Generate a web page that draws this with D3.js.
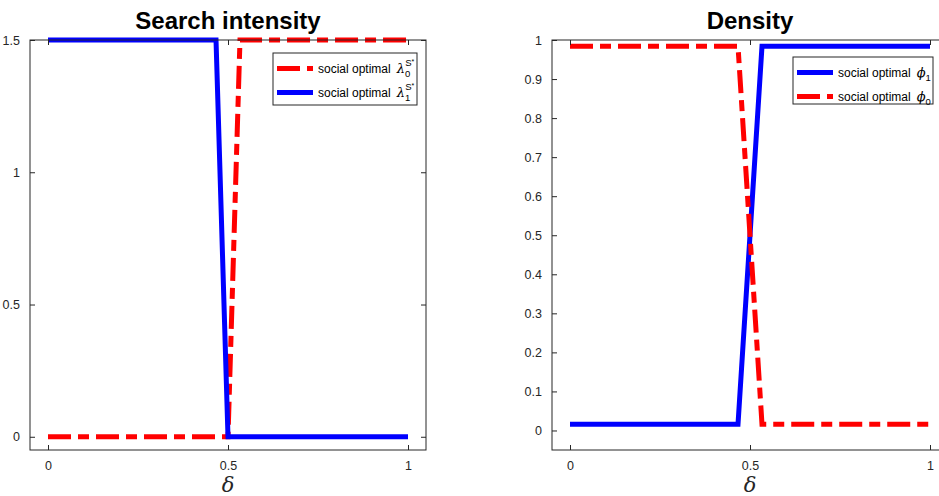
<!DOCTYPE html>
<html>
<head>
<meta charset="utf-8">
<script src="https://cdn.jsdelivr.net/npm/d3@7"></script>
<style>
  body { margin: 0; background: #fff; }
  text { font-family: "Liberation Sans", Arial, Helvetica, sans-serif; }
</style>
</head>
<body>
<svg id="fig" width="939" height="496"></svg>
<script>
// delta grid breakpoints (model solved on a 1/30 grid, flat outside the switch)
const delta = [0, 0.4667, 0.5, 0.5333, 1];

// left panel: search intensity
const lambda0 = [0, 0, 0, 1.5, 1.5];
const lambda1 = [1.5, 1.5, 0, 0, 0];
const searchYTicks = [0, 0.5, 1, 1.5];

// right panel: density
const phi1 = [0.016, 0.016, 0.5, 0.984, 0.984];
const phi0 = [0.984, 0.984, 0.5, 0.016, 0.016];
const densityYTicks = [0, 0.1, 0.2, 0.3, 0.4, 0.5, 0.6, 0.7, 0.8, 0.9, 1];

const xTicks = [0, 0.5, 1];

const svg = d3.select("#fig");
const axisColor = "#262626";
const dashDot = "23,7,11,7";

function panel(opts) {
    const x = d3.scaleLinear().domain([-0.05, 1.05]).range(opts.xr);
    const y = d3.scaleLinear().domain(opts.ydom).range([450, 40]);
    const g = svg.append("g");

    // lines
    opts.series.forEach(s => {
        const line = d3.line().x((d, i) => x(delta[i])).y(d => y(d));
        g.append("path")
            .datum(s.values)
            .attr("d", line)
            .attr("fill", "none")
            .attr("stroke", s.color)
            .attr("stroke-width", 5)
            .attr("stroke-dasharray", s.dash ? dashDot : null);
    });

    // axes (box with mirrored inner ticks)
    const [x0, x1] = x.range(), [y0, y1] = y.range();
    g.append("rect").attr("x", x0).attr("y", y1).attr("width", x1 - x0).attr("height", y0 - y1)
        .attr("fill", "none").attr("stroke", axisColor).attr("stroke-width", 1);
    const xb = g.append("g").attr("transform", `translate(0,${y0})`)
        .call(d3.axisBottom(x).tickValues(xTicks).tickSizeInner(-5).tickSizeOuter(0).tickPadding(11).tickFormat(d3.format("")));
    const xt = g.append("g").attr("transform", `translate(0,${y1})`)
        .call(d3.axisTop(x).tickValues(xTicks).tickSizeInner(-5).tickSizeOuter(0).tickFormat(""));
    const yl = g.append("g").attr("transform", `translate(${x0},0)`)
        .call(d3.axisLeft(y).tickValues(opts.yticks).tickSizeInner(-5).tickSizeOuter(0).tickPadding(10).tickFormat(d3.format("")));
    const yr = g.append("g").attr("transform", `translate(${x1},0)`)
        .call(d3.axisRight(y).tickValues(opts.yticks).tickSizeInner(-5).tickSizeOuter(0).tickFormat(""));
    [xb, xt, yl, yr].forEach(a => {
        a.select(".domain").remove();
        a.selectAll("line").attr("stroke", axisColor);
        a.selectAll("text").attr("fill", axisColor).style("font-size", "12.5px")
            .style("font-family", "'Liberation Sans', Arial, sans-serif");
    });

    // title + xlabel
    const cx = x(0.5);
    svg.append("text").attr("x", cx).attr("y", 29).attr("text-anchor", "middle")
        .style("font-size", "24px").style("font-weight", "bold").text(opts.title);
    svg.append("text").attr("x", cx).attr("y", 492).attr("text-anchor", "middle")
        .style("font-family", "'DejaVu Serif', 'Liberation Serif', serif").style("font-style", "italic")
        .style("font-size", "21px").attr("fill", axisColor).text("δ");

    // legend
    const L = opts.legend;
    svg.append("rect").attr("x", L.x).attr("y", L.y).attr("width", L.w).attr("height", L.h)
        .attr("fill", "#fff").attr("stroke", axisColor).attr("stroke-width", 1);
    L.items.forEach((it, i) => {
        const yy = L.y + 15.5 + i * 24;
        svg.append("line").attr("x1", L.x + 4).attr("x2", L.x + 40).attr("y1", yy).attr("y2", yy)
            .attr("stroke", it.color).attr("stroke-width", 5)
            .attr("stroke-dasharray", it.dash ? dashDot : null);
        const t = svg.append("text").attr("x", L.x + 45).attr("y", yy + 4)
            .style("font-size", "12px").attr("fill", "#000");
        t.append("tspan").text("social optimal");
        t.append("tspan").attr("dx", 6).style("font-family", "'DejaVu Serif', 'Liberation Serif', serif")
            .style("font-style", "italic").style("font-size", "13px").text(it.sym);
        t.append("tspan").attr("dy", 4).style("font-size", "9.5px").text(it.sub);
        if (it.sup) {
            t.append("tspan").attr("dx", -5).attr("dy", -11).style("font-size", "9.5px").text("S");
            t.append("tspan").attr("dy", -2).style("font-size", "7px").text("*");
        }
    });
}

panel({
    xr: [30, 426], ydom: [-0.05, 1.5], yticks: searchYTicks, title: "Search intensity",
    series: [
        { values: lambda0, color: "#ff0000", dash: true },
        { values: lambda1, color: "#0000ff", dash: false }
    ],
    legend: { x: 273, y: 53, w: 144, h: 52, items: [
        { color: "#ff0000", dash: true, sym: "λ", sub: "0", sup: true },
        { color: "#0000ff", dash: false, sym: "λ", sub: "1", sup: true }
    ] }
});

panel({
    xr: [552, 948], ydom: [-0.05, 1], yticks: densityYTicks, title: "Density",
    series: [
        { values: phi1, color: "#0000ff", dash: false },
        { values: phi0, color: "#ff0000", dash: true }
    ],
    legend: { x: 793, y: 57, w: 140, h: 47, items: [
        { color: "#0000ff", dash: false, sym: "ϕ", sub: "1", sup: false },
        { color: "#ff0000", dash: true, sym: "ϕ", sub: "0", sup: false }
    ] }
});
</script>
</body>
</html>
